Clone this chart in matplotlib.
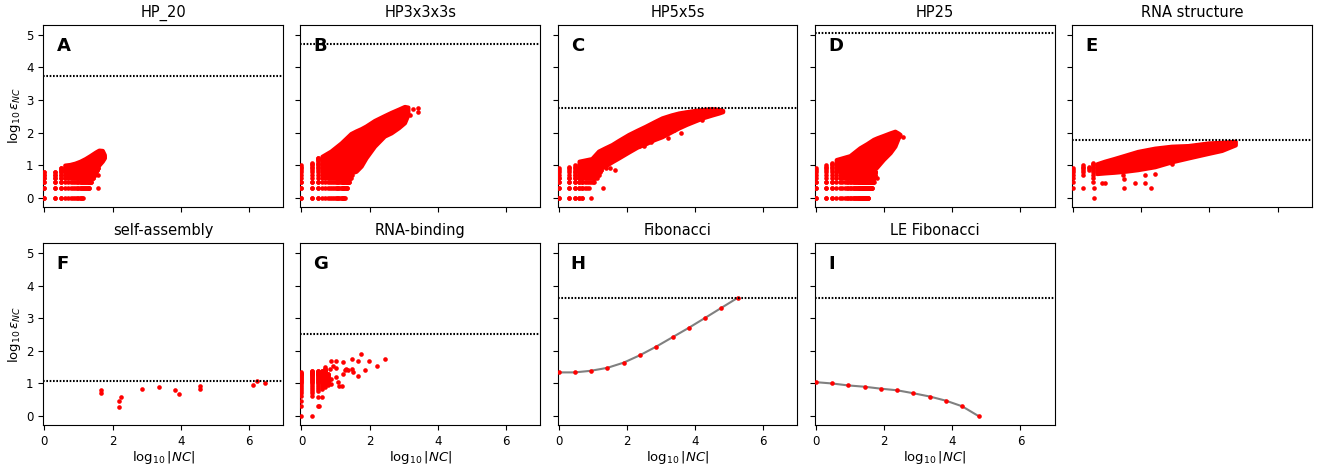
import numpy as np
import matplotlib
matplotlib.use("Agg")
import matplotlib.pyplot as plt

# ---------------------------------------------------------------- panel info
titles = ["HP_20", "HP3x3x3s", "HP5x5s", "HP25", "RNA structure",
          "self-assembly", "RNA-binding", "Fibonacci", "LE Fibonacci"]
letters = ["A", "B", "C", "D", "E", "F", "G", "H", "I"]
# log10 of the random-expectation level drawn as a dotted line
thresholds = [3.72, 4.71, 2.74, 5.04, 1.76, 1.09, 2.52, 3.63, 3.63]

# ------------------------------------------------------------------ data
# Small neutral components sit on an integer lattice (|NC| = n, eps = k):
#   rows -> (k, n_first, n_last)   cols -> (n, k_first, k_last)
# Large components are dense; their cloud is given by its envelope
# (x = log10|NC|, lower / upper log10 eps).

# A  HP_20
hp20_rows = [(1, 1, 14), (2, 1, 21), (3, 1, 24), (4, 1, 27),
             (5, 1, 30), (6, 1, 32), (7, 3, 35), (8, 3, 38)]
hp20_cols = [(1, 1, 6), (2, 1, 6), (3, 1, 8)]
hp20_env_x = [0.60, 0.75, 0.90, 1.05, 1.20, 1.34, 1.50, 1.60, 1.70, 1.76]
hp20_env_lo = [0.95, 0.95, 0.95, 0.95, 0.95, 0.95, 0.95, 1.00, 1.12, 1.22]
hp20_env_hi = [1.00, 1.02, 1.06, 1.12, 1.20, 1.29, 1.40, 1.46, 1.45, 1.32]
hp20_x = [1.58, 1.58, 1.76]
hp20_y = [0.30, 0.70, 1.25]

# B  HP3x3x3s
hp333_rows = [(1, 1, 19), (2, 1, 22), (3, 1, 25), (4, 4, 28), (5, 4, 30)]
hp333_cols = [(1, 1, 10), (2, 1, 12), (3, 1, 17)]
hp333_env_x = [0.60, 0.86, 1.16, 1.45, 1.60, 1.75, 1.89, 2.14, 2.43, 2.63,
               2.85, 3.02, 3.12]
hp333_env_lo = [0.76, 0.76, 0.76, 0.76, 0.81, 0.97, 1.22, 1.58, 1.89, 1.99,
                2.15, 2.30, 2.55]
hp333_env_hi = [1.27, 1.43, 1.68, 1.97, 2.05, 2.12, 2.20, 2.37, 2.52, 2.62,
                2.72, 2.80, 2.78]
hp333_x = [3.17, 3.26, 3.43, 3.43]
hp333_y = [2.55, 2.73, 2.76, 2.62]

# C  HP5x5s
hp55_rows = [(1, 1, 5), (2, 1, 8), (3, 1, 11), (4, 1, 13),
             (5, 3, 15), (6, 3, 16), (7, 4, 18)]
hp55_cols = [(1, 1, 8), (2, 1, 9), (3, 1, 10), (4, 1, 10), (5, 1, 11)]
hp55_env_x = [0.60, 0.97, 1.17, 1.36, 1.56, 1.76, 2.05, 2.30, 2.54, 2.80,
              3.03, 3.30, 3.52, 3.75, 4.01, 4.25, 4.50, 4.70, 4.81]
hp55_env_lo = [0.88, 0.88, 0.88, 0.97, 1.10, 1.22, 1.40, 1.55, 1.65, 1.78,
               1.87, 2.02, 2.14, 2.25, 2.36, 2.46, 2.54, 2.60, 2.64]
hp55_env_hi = [1.12, 1.20, 1.43, 1.53, 1.63, 1.76, 1.94, 2.07, 2.19, 2.33,
               2.45, 2.54, 2.60, 2.64, 2.68, 2.71, 2.73, 2.71, 2.68]
hp55_x = [0.95, 1.31, 1.66, 1.38, 1.51, 2.36, 2.50, 2.70, 3.21, 3.59, 3.38,
          4.20]
hp55_y = [0.00, 0.30, 0.85, 0.90, 0.92, 1.60, 1.60, 1.70, 1.84, 1.99, 2.09,
          2.38]

# D  HP25
hp25_rows = [(1, 1, 35), (2, 1, 45), (3, 1, 50), (4, 4, 52), (5, 4, 54),
             (6, 4, 56)]
hp25_cols = [(1, 1, 8), (2, 1, 10), (3, 1, 12)]
hp25_env_x = [0.60, 1.00, 1.29, 1.50, 1.69, 1.80, 1.98, 2.18, 2.32, 2.42,
              2.47]
hp25_env_lo = [0.82, 0.82, 0.82, 0.82, 0.82, 0.95, 1.17, 1.38, 1.58, 1.84,
               1.90]
hp25_env_hi = [1.17, 1.29, 1.53, 1.66, 1.79, 1.84, 1.91, 1.99, 2.04, 1.98,
               1.94]
hp25_x = [2.55, 1.80]
hp25_y = [1.86, 0.59]

# E  RNA structure
rna_rows = []
rna_cols = [(1, 2, 8), (2, 5, 10), (3, 7, 9), (4, 3, 12)]
rna_env_x = [0.70, 0.93, 1.20, 1.52, 1.90, 2.40, 2.89, 3.38, 3.97, 4.36,
             4.76]
rna_env_lo = [0.74, 0.76, 0.78, 0.81, 0.86, 0.95, 1.10, 1.22, 1.36, 1.45,
              1.62]
rna_env_hi = [1.04, 1.12, 1.20, 1.30, 1.42, 1.52, 1.58, 1.60, 1.68, 1.70,
              1.73]
rna_x = [0.30, 0.61, 0.61, 0.86, 0.93, 1.50, 1.50, 1.82, 2.11, 2.11, 2.30,
         2.40, 1.47, 2.89]
rna_y = [0.30, 0.30, 0.00, 0.45, 0.45, 0.58, 0.30, 0.45, 0.45, 0.71, 0.30,
         0.74, 0.71, 1.04]

# F  self-assembly
sa_x = [1.66, 1.66, 2.19, 2.20, 2.26, 2.86, 3.37, 3.84, 3.94, 4.57, 4.57,
        6.11, 6.24, 6.48]
sa_y = [0.79, 0.71, 0.46, 0.29, 0.60, 0.84, 0.90, 0.79, 0.69, 0.91, 0.83,
        0.94, 1.08, 1.00]

# G  RNA-binding
rb_rows = []
rb_cols = [(1, 1, 22), (2, 4, 25), (3, 6, 25), (4, 7, 25), (5, 8, 28),
           (6, 9, 20)]
rb_x = [0.30, 0.48, 0.48, 0.60, 0.70, 0.83, 0.88, 0.93, 1.00, 1.02, 0.80,
        0.88, 1.00, 1.07, 1.09, 1.20, 1.22, 1.27, 1.22, 1.32, 1.47, 1.37,
        1.47, 1.52, 1.65, 1.67, 1.75, 1.86, 1.97, 2.22, 2.44, 0.73, 0.63,
        0.88, 0.51]
rb_y = [0.00, 0.30, 0.60, 0.60, 1.52, 1.45, 1.68, 1.55, 1.68, 1.48, 1.12,
        1.14, 1.19, 1.04, 0.92, 0.91, 1.28, 1.40, 1.65, 1.43, 1.76, 1.42,
        1.45, 1.35, 1.68, 1.24, 1.91, 1.40, 1.70, 1.54, 1.76, 1.04, 0.94,
        0.99, 0.30]

# H  Fibonacci
fib_x = [0.00, 0.48, 0.95, 1.43, 1.91, 2.39, 2.86, 3.34, 3.82, 4.29, 4.77,
         5.25]
fib_y = [1.34, 1.34, 1.39, 1.48, 1.64, 1.87, 2.13, 2.42, 2.71, 3.01, 3.32,
         3.63]

# I  LE Fibonacci
lefib_x = [0.00, 0.48, 0.95, 1.43, 1.91, 2.39, 2.86, 3.34, 3.82, 4.29, 4.77]
lefib_y = [1.04, 1.00, 0.94, 0.90, 0.84, 0.79, 0.70, 0.60, 0.47, 0.30, 0.00]

# ------------------------------------------------------------------ helpers
DOT = dict(s=11, c="red", linewidths=0, zorder=3)


def lattice(rows, cols):
    xs, ys = [], []
    for k, n0, n1 in rows:
        n = np.arange(n0, n1 + 1)
        xs.append(np.log10(n))
        ys.append(np.full(n.size, np.log10(k)))
    for n, k0, k1 in cols:
        k = np.arange(k0, k1 + 1)
        xs.append(np.full(k.size, np.log10(n)))
        ys.append(np.log10(k))
    if not xs:
        return np.array([]), np.array([])
    return np.concatenate(xs), np.concatenate(ys)


def cloud(ax, rows, cols, env_x, env_lo, env_hi, px, py):
    lx, ly = lattice(rows, cols)
    if lx.size:
        ax.scatter(lx, ly, **DOT)
    ax.fill_between(env_x, env_lo, env_hi, facecolor="red",
                    edgecolor="red", linewidth=3.0, zorder=3)
    ax.scatter(px, py, **DOT)


# ------------------------------------------------------------------ figure
fig, axes = plt.subplots(2, 5, sharex=True, sharey=True,
                         figsize=(13.19, 4.67), dpi=100)
fig.subplots_adjust(left=0.0328, right=0.9945, top=0.9465, bottom=0.0899,
                    wspace=0.072, hspace=0.202)
axes[1, 4].set_visible(False)
panels = [axes[0, 0], axes[0, 1], axes[0, 2], axes[0, 3], axes[0, 4],
          axes[1, 0], axes[1, 1], axes[1, 2], axes[1, 3]]

cloud(panels[0], hp20_rows, hp20_cols, hp20_env_x, hp20_env_lo, hp20_env_hi,
      hp20_x, hp20_y)
cloud(panels[1], hp333_rows, hp333_cols, hp333_env_x, hp333_env_lo,
      hp333_env_hi, hp333_x, hp333_y)
cloud(panels[2], hp55_rows, hp55_cols, hp55_env_x, hp55_env_lo, hp55_env_hi,
      hp55_x, hp55_y)
cloud(panels[3], hp25_rows, hp25_cols, hp25_env_x, hp25_env_lo, hp25_env_hi,
      hp25_x, hp25_y)
cloud(panels[4], rna_rows, rna_cols, rna_env_x, rna_env_lo, rna_env_hi,
      rna_x, rna_y)

panels[5].scatter(sa_x, sa_y, **DOT)

gx, gy = lattice(rb_rows, rb_cols)
panels[6].scatter(gx, gy, **DOT)
panels[6].scatter(rb_x, rb_y, **DOT)

for ax, xs, ys in [(panels[7], fib_x, fib_y), (panels[8], lefib_x, lefib_y)]:
    ax.plot(xs, ys, color="grey", lw=1.5, zorder=2)
    ax.scatter(xs, ys, **DOT)

for ax, title, letter, thr in zip(panels, titles, letters, thresholds):
    ax.axhline(thr, color="black", lw=1.5, ls=(0, (0.8, 0.8)), zorder=4)
    ax.set_title(title, fontsize=10.5)
    ax.text(0.055, 0.885, letter, transform=ax.transAxes, fontsize=13,
            fontweight="bold", ha="left", va="center")
    ax.tick_params(labelsize=8.5)

ax0 = panels[0]
ax0.set_xlim(-0.03, 7.0)
ax0.set_ylim(-0.275, 5.30)
ax0.set_xticks([0, 2, 4, 6])
ax0.set_yticks([0, 1, 2, 3, 4, 5])

for ax in (axes[0, 0], axes[1, 0]):
    ax.set_ylabel(r"log$_{10}\,\epsilon_{NC}$", fontsize=9.5, labelpad=2)
for ax in axes[1, :4]:
    ax.set_xlabel(r"log$_{10}\,|NC|$", fontsize=9.5, labelpad=1)

fig.savefig("out.png", dpi=100)
